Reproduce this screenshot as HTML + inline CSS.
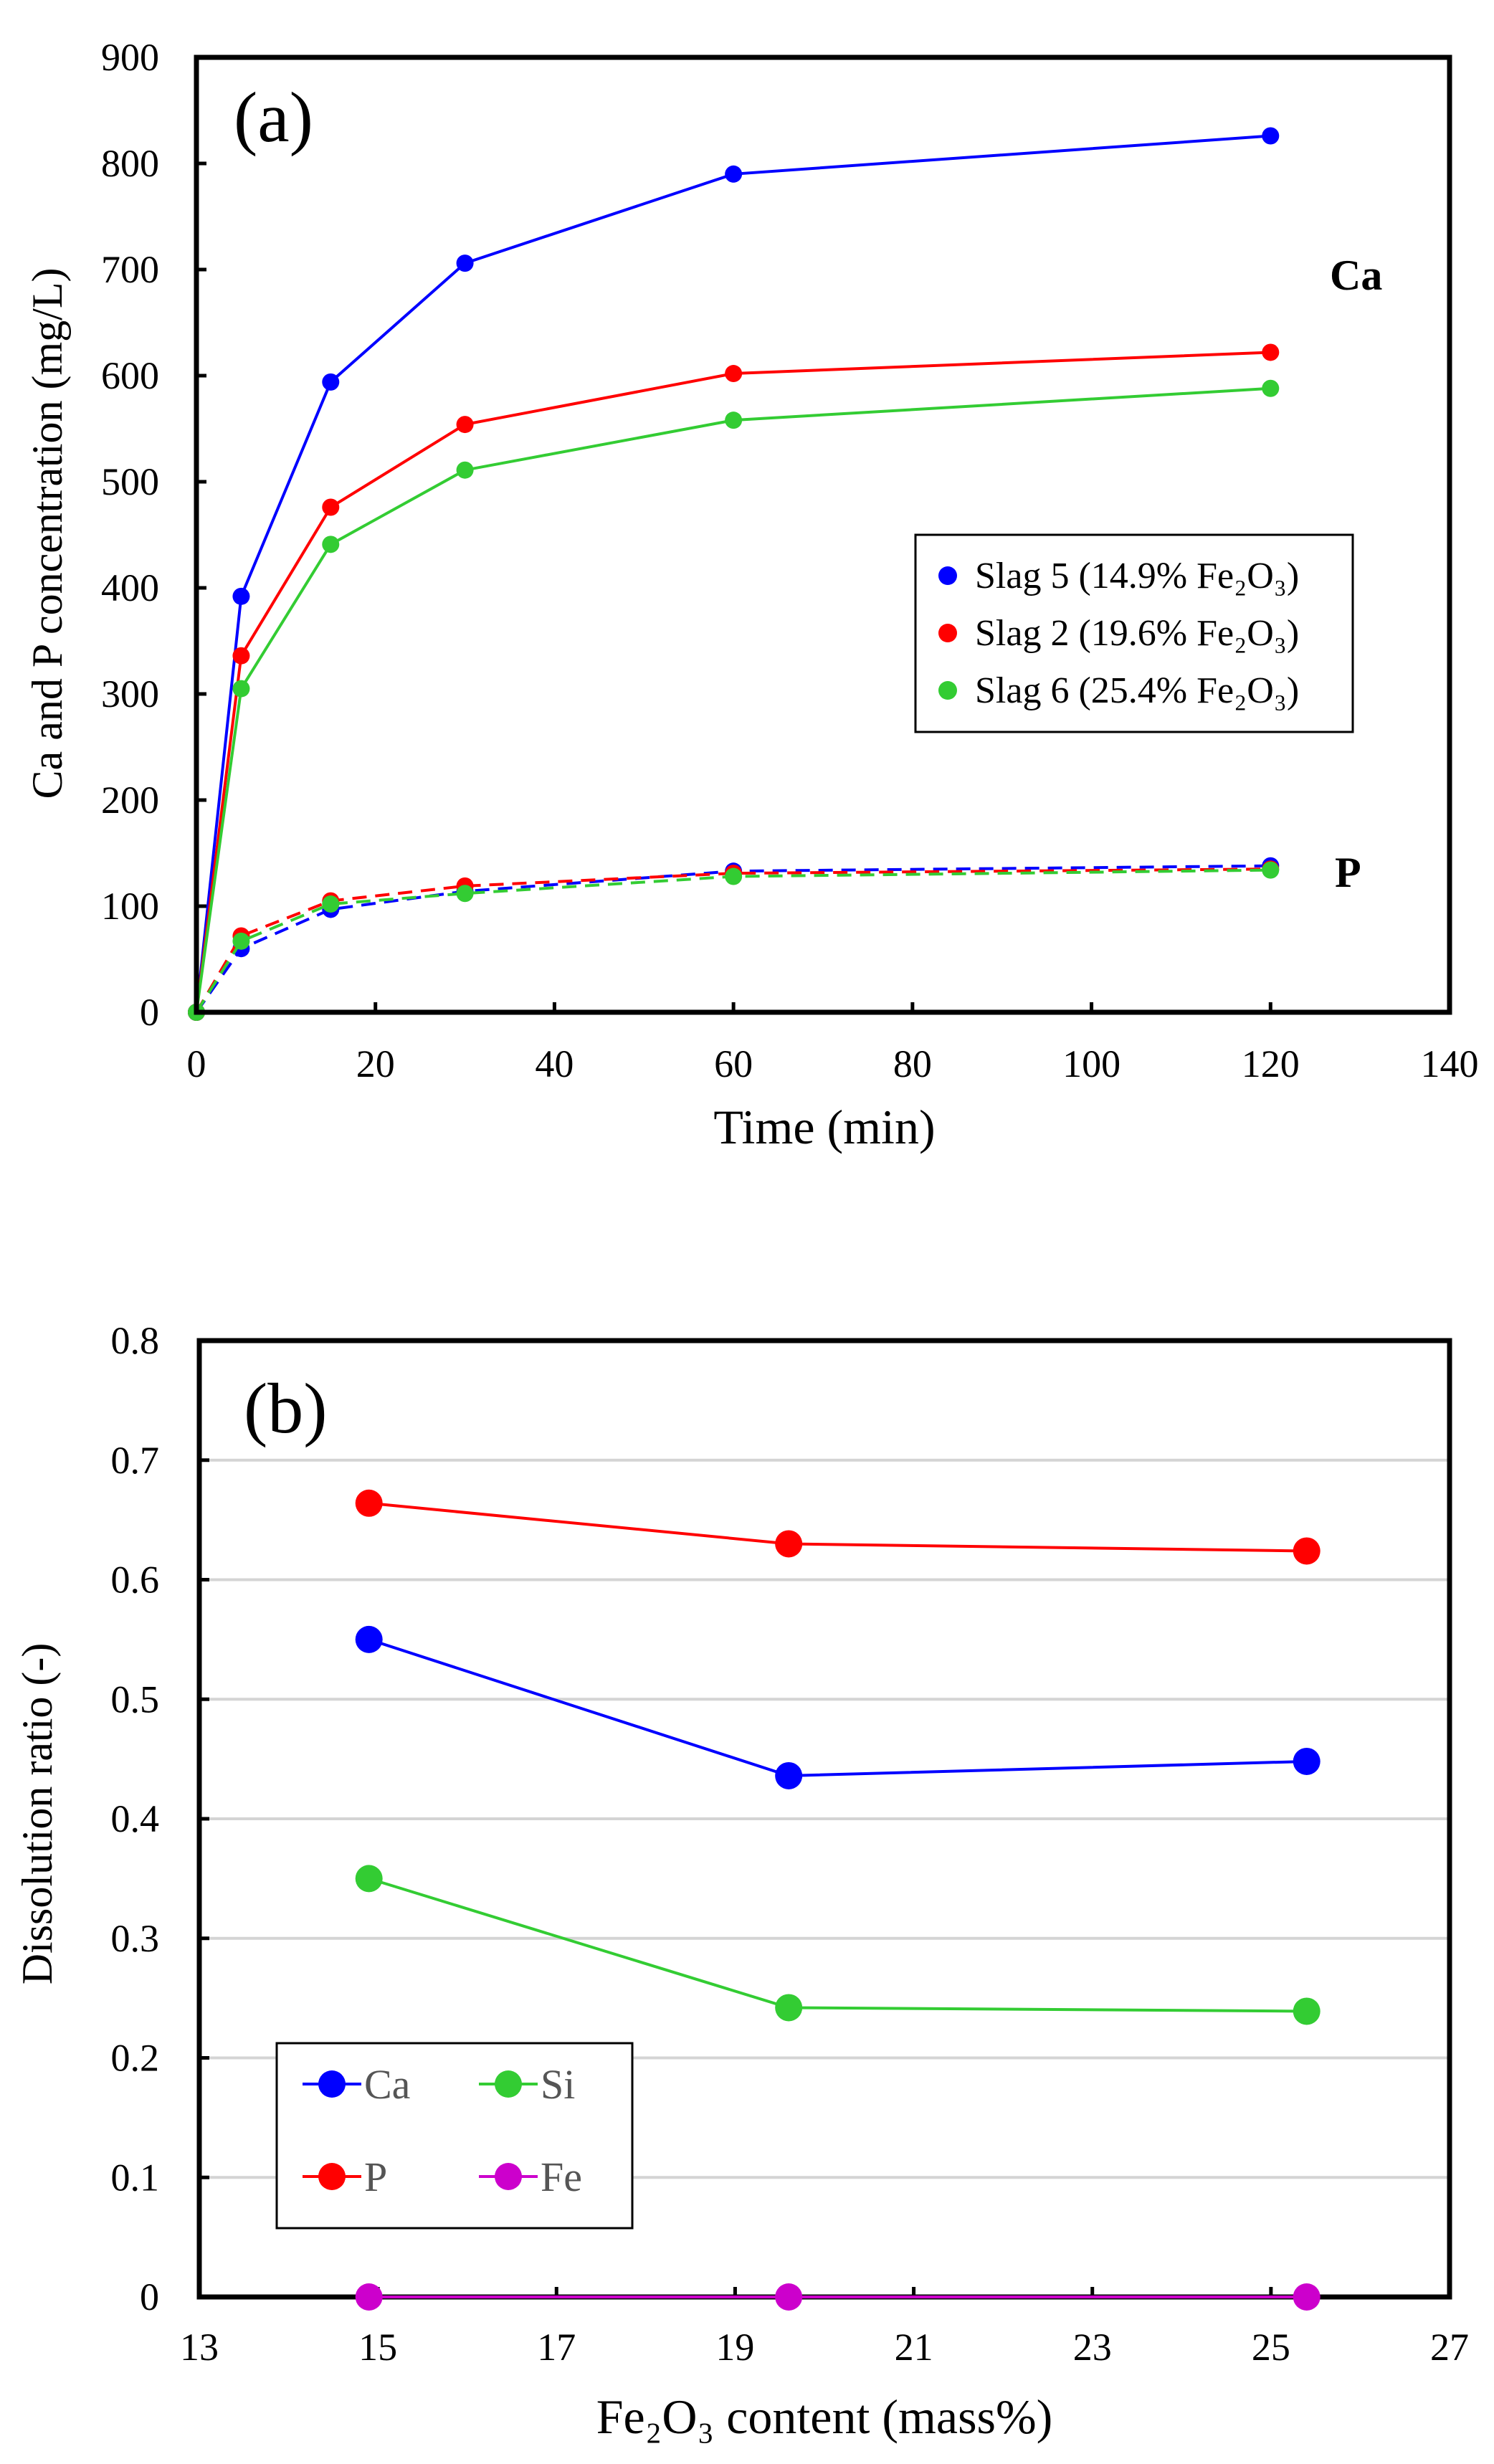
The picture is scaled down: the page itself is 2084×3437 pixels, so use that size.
<!DOCTYPE html>
<html><head><meta charset="utf-8"><style>
html,body{margin:0;padding:0;background:#fff}
svg{display:block}
svg text{font-family:"Liberation Serif","Times New Roman",serif}
</style></head><body>
<svg id="root" width="2084" height="3437" viewBox="0 0 2084 3437" font-family="Liberation Serif, Times New Roman, serif"></svg>
<script>
// Chart (a) data
const timesA = [0, 5, 15, 30, 60, 120];
const caSlag5 = [0, 392, 594, 706, 790, 826];
const caSlag2 = [0, 336, 476, 554, 602, 622];
const caSlag6 = [0, 305, 441, 511, 558, 588];
const pSlag5 = [0, 60, 97, 114, 133, 138];
const pSlag2 = [0, 72, 105, 119, 131, 135];
const pSlag6 = [0, 67, 102, 112, 128, 134];
const xTicksA = [0, 20, 40, 60, 80, 100, 120, 140];
const yTicksA = [0, 100, 200, 300, 400, 500, 600, 700, 800, 900];
const legendA = ["Slag 5 (14.9% Fe\u2082O\u2083)", "Slag 2 (19.6% Fe\u2082O\u2083)", "Slag 6 (25.4% Fe\u2082O\u2083)"];
// Chart (b) data
const fe2o3 = [14.9, 19.6, 25.4];
const ratioCa = [0.550, 0.436, 0.448];
const ratioSi = [0.350, 0.242, 0.239];
const ratioP = [0.664, 0.630, 0.624];
const ratioFe = [0, 0, 0];
const xTicksB = [13, 15, 17, 19, 21, 23, 25, 27];
const yTicksB = ["0", "0.1", "0.2", "0.3", "0.4", "0.5", "0.6", "0.7", "0.8"];

const NS = "http://www.w3.org/2000/svg";
const root = document.getElementById("root");
const FF = "Liberation Serif, Times New Roman, serif";
function mk(tag, attrs, parent, text) {
  const e = document.createElementNS(NS, tag);
  for (const k in attrs) e.setAttribute(k, attrs[k]);
  if (tag === "text") e.setAttribute("font-family", FF);
  if (text !== undefined) e.textContent = text;
  (parent || root).appendChild(e);
  return e;
}
const BLUE = "#0000ff", RED = "#ff0000", GREEN = "#33cc33", MAG = "#cc00cc";

// ---------- Chart A ----------
const A = {l: 274, r: 2022, t: 80, b: 1412, xmin: 0, xmax: 140, ymin: 0, ymax: 900};
const xA = v => A.l + (v - A.xmin) / (A.xmax - A.xmin) * (A.r - A.l);
const yA = v => A.b - (v - A.ymin) / (A.ymax - A.ymin) * (A.b - A.t);
const gA = mk("g", {});



xTicksA.forEach(v => {
  const t = mk("line", {x1: xA(v), x2: xA(v), y1: A.b, y2: A.b - 14, stroke: "#000", "stroke-width": 5}, gA);
  
  
  const lb = mk("text", {x: xA(v), y: 1502, "font-size": 54, "text-anchor": "middle"}, gA, String(v));
  
  
});
yTicksA.forEach(v => {
  const t = mk("line", {x1: A.l, x2: A.l + 14, y1: yA(v), y2: yA(v), stroke: "#000", "stroke-width": 5}, gA);
  
  
  const lb = mk("text", {x: 222, y: yA(v) + 18, "font-size": 54, "text-anchor": "end"}, gA, String(v));
  
  
});

function seriesA(vals, color, dashed, name) {
  const pts = vals.map((v, i) => xA(timesA[i]) + "," + yA(v)).join(" ");
  const pl = mk("polyline", {points: pts, fill: "none", stroke: color, "stroke-width": 4, "stroke-dasharray": dashed ? "20 12" : "none"}, gA);
  
  
  vals.forEach((v, i) => {
    const c = mk("circle", {cx: xA(timesA[i]), cy: yA(v), r: 12, fill: color}, gA);
    
    
  });
}
seriesA(pSlag5, BLUE, true, "p-slag5");
seriesA(pSlag2, RED, true, "p-slag2");
seriesA(pSlag6, GREEN, true, "p-slag6");
seriesA(caSlag5, BLUE, false, "ca-slag5");
seriesA(caSlag2, RED, false, "ca-slag2");
seriesA(caSlag6, GREEN, false, "ca-slag6");

const frameA = mk("rect", {x: A.l, y: A.t, width: A.r - A.l, height: A.b - A.t, fill: "none", stroke: "#000", "stroke-width": 7}, gA);



let e;
e = mk("text", {x: 326, y: 197, "font-size": 100}, gA, "(a)");
 
e = mk("text", {x: 1855, y: 404, "font-size": 60, "font-weight": "bold"}, gA, "Ca");
 
e = mk("text", {x: 1862, y: 1237, "font-size": 60, "font-weight": "bold"}, gA, "P");
 
e = mk("text", {x: 1150, y: 1595, "font-size": 68, "text-anchor": "middle"}, gA, "Time (min)");
 
e = mk("text", {x: 0, y: 0, "font-size": 60, "text-anchor": "middle", transform: "translate(86,744) rotate(-90)"}, gA, "Ca and P concentration  (mg/L)");
 

const legA = mk("g", {}, gA);


e = mk("rect", {x: 1277, y: 746, width: 610, height: 275, fill: "#fff", stroke: "#000", "stroke-width": 3}, legA);
 
[BLUE, RED, GREEN].forEach((c, i) => {
  const y = 803 + i * 80;
  const m = mk("circle", {cx: 1322, cy: y, r: 13, fill: c}, legA);
  
  
  const t = mk("text", {x: 1360, y: y + 17, "font-size": 52}, legA, legendA[i]);
  
  
});

// ---------- Chart B ----------
const B = {l: 278, r: 2022, t: 1870, b: 3204, xmin: 13, xmax: 27, ymin: 0, ymax: 0.8};
const xB = v => B.l + (v - B.xmin) / (B.xmax - B.xmin) * (B.r - B.l);
const yB = v => B.b - (v - B.ymin) / (B.ymax - B.ymin) * (B.b - B.t);
const gB = mk("g", {});



yTicksB.forEach(s => {
  const v = parseFloat(s);
  if (v > 0 && v < 0.8) {
    const g = mk("line", {x1: B.l, x2: B.r, y1: yB(v), y2: yB(v), stroke: "#d4d4d4", "stroke-width": 4}, gB);
    
    
  }
  const t = mk("line", {x1: B.l, x2: B.l + 14, y1: yB(v), y2: yB(v), stroke: "#000", "stroke-width": 5}, gB);
  
  
  const lb = mk("text", {x: 222, y: yB(v) + 18, "font-size": 54, "text-anchor": "end"}, gB, s);
  
  
});
xTicksB.forEach(v => {
  const t = mk("line", {x1: xB(v), x2: xB(v), y1: B.b, y2: B.b - 14, stroke: "#000", "stroke-width": 5}, gB);
  
  
  const lb = mk("text", {x: xB(v), y: 3292, "font-size": 54, "text-anchor": "middle"}, gB, String(v));
  
  
});

const frameB = mk("rect", {x: B.l, y: B.t, width: B.r - B.l, height: B.b - B.t, fill: "none", stroke: "#000", "stroke-width": 7}, gB);



function seriesB(vals, color, name) {
  const pts = vals.map((v, i) => xB(fe2o3[i]) + "," + yB(v)).join(" ");
  const pl = mk("polyline", {points: pts, fill: "none", stroke: color, "stroke-width": 4}, gB);
  
  
  vals.forEach((v, i) => {
    const c = mk("circle", {cx: xB(fe2o3[i]), cy: yB(v), r: 19, fill: color}, gB);
    
    
  });
}
seriesB(ratioP, RED, "ratio-p");
seriesB(ratioCa, BLUE, "ratio-ca");
seriesB(ratioSi, GREEN, "ratio-si");
seriesB(ratioFe, MAG, "ratio-fe");

e = mk("text", {x: 340, y: 1998, "font-size": 100}, gB, "(b)");
 
e = mk("text", {x: 1150, y: 3394, "font-size": 68, "text-anchor": "middle"}, gB, "Fe\u2082O\u2083 content (mass%)");
 
e = mk("text", {x: 0, y: 0, "font-size": 60, "text-anchor": "middle", transform: "translate(72,2530) rotate(-90)"}, gB, "Dissolution ratio (-)");
 

const legB = mk("g", {}, gB);


e = mk("rect", {x: 386, y: 2850, width: 496, height: 258, fill: "#fff", stroke: "#000", "stroke-width": 3}, legB);
 
const legBItems = [["Ca", BLUE, 422, 2907], ["Si", GREEN, 668, 2907], ["P", RED, 422, 3036], ["Fe", MAG, 668, 3036]];
legBItems.forEach(it => {
  const [lab, c, x0, y] = it;
  const ln = mk("line", {x1: x0, x2: x0 + 82, y1: y, y2: y, stroke: c, "stroke-width": 4}, legB);
  
  
  const m = mk("circle", {cx: x0 + 41, cy: y, r: 19, fill: c}, legB);
  
  
  const t = mk("text", {x: x0 + 86, y: y + 20, "font-size": 58, fill: "#555"}, legB, lab);
  
  
});
</script>
</body></html>
